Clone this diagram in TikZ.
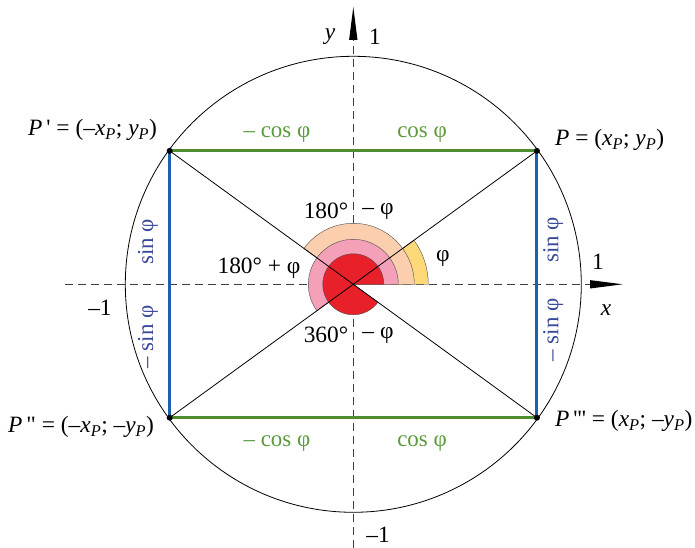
\documentclass[tikz,border=0pt]{standalone}
\usepackage{fontspec}
\usetikzlibrary{calc}
\setmainfont{Liberation Serif}
\definecolor{cyel}{HTML}{FDD97A}
\definecolor{cpeach}{HTML}{FBCFAE}
\definecolor{cpink}{HTML}{F4A0B8}
\definecolor{cred}{HTML}{E8202A}
\definecolor{cgreen}{HTML}{4E8E2E}
\definecolor{cgreentxt}{HTML}{5A9A3A}
\definecolor{cblue}{HTML}{1A60B0}
\definecolor{cbluetxt}{HTML}{3A489A}
\newcommand{\qs}{\textquotesingle}
\newcommand{\ph}{φ}
\begin{document}
\begin{tikzpicture}[x=1bp,y=1bp,
  lbl/.style={inner sep=0pt,font=\fontsize{23.5}{27}\selectfont},
  gtxt/.style={inner sep=0pt,text=cgreentxt,font=\fontsize{23}{26}\selectfont},
  btxt/.style={inner sep=0pt,text=cbluetxt,font=\fontsize{23}{26}\selectfont,rotate=90},
  axis/.style={dashed,dash pattern=on 8bp off 5bp,line width=0.7bp,black!75},
  sector/.style={draw=black!70,line width=0.4bp},
  tri/.style={fill=black,draw=none},
  dot/.style={circle,fill=black,inner sep=0pt,minimum size=6bp}]
\useasboundingbox (-353.3,-263.7) rectangle (341.7,284.3);
\coordinate (O) at (0,0);
% axes
\coordinate (xl) at (-288,0);
\coordinate (xb) at (236.7,0);
\coordinate (xt) at (269.4,0);
\coordinate (yb) at (0,-263.7);
\coordinate (yb2) at (0,244.3);
\coordinate (yt) at (0,277.3);
\draw[axis] (xl) -- (xb);
\draw[axis] (yb) -- (yb2);
\fill[tri] (xt) -- ($(xb)+(0,4.2)$) -- ($(xb)+(0,-4.2)$) -- cycle;
\fill[tri] (yt) -- ($(yb2)+(4.2,0)$) -- ($(yb2)+(-4.2,0)$) -- cycle;
% circle
\draw[line width=0.8bp] (O) circle (228);
% sectors
\filldraw[sector,fill=cyel] (O) -- (0:75) arc (0:36:75) -- cycle;
\filldraw[sector,fill=cpeach] (O) -- (0:61) arc (0:144:61) -- cycle;
\filldraw[sector,fill=cpink] (O) -- (0:45) arc (0:216:45) -- cycle;
\filldraw[sector,fill=cred] (O) -- (0:30.5) arc (0:324:30.5) -- cycle;
% points
\coordinate (P) at (36:227);
\coordinate (P1) at (144:227);
\coordinate (P2) at (216:227);
\coordinate (P3) at (324:227);
\draw[line width=0.8bp] (P) -- (P2);
\draw[line width=0.8bp] (P1) -- (P3);
\draw[cgreen,line width=3bp] (P1) -- (P);
\draw[cgreen,line width=3bp] (P2) -- (P3);
\draw[cblue,line width=3bp] (P1) -- (P2);
\draw[cblue,line width=3bp] (P) -- (P3);
\node[dot] (dP) at (P) {};
\node[dot] (dP1) at (P1) {};
\node[dot] (dP2) at (P2) {};
\node[dot] (dP3) at (P3) {};
% point labels
\node[lbl,anchor=base west] (lP1) at (-325.3,148.3) {\textit{P}\,\qs\ = (–\textit{x}\textsubscript{\textit{P}}; \textit{y}\textsubscript{\textit{P}})};
\node[lbl,anchor=base west] (lP) at (201.7,138.3) {\textit{P} = (\textit{x}\textsubscript{\textit{P}}; \textit{y}\textsubscript{\textit{P}})};
\node[lbl,anchor=base west] (lP2) at (-345.3,-148.7) {\textit{P}\,\textquotedbl\ = (–\textit{x}\textsubscript{\textit{P}}; –\textit{y}\textsubscript{\textit{P}})};
\node[lbl,anchor=base west] (lP3) at (201.7,-142.7) {\textit{P}\,\qs\qs\qs\ = (\textit{x}\textsubscript{\textit{P}}; –\textit{y}\textsubscript{\textit{P}})};
% green labels
\node[gtxt,anchor=base] (g1) at (-76.3,146.3) {– cos \ph};
\node[gtxt,anchor=base] (g2) at (68.7,146.3) {cos \ph};
\node[gtxt,anchor=base] (g3) at (-76.3,-162.4) {– cos \ph};
\node[gtxt,anchor=base] (g4) at (68.7,-162.4) {cos \ph};
% blue labels
\node[btxt] (b1) at (-205.3,42.3) {sin \ph};
\node[btxt] (b2) at (-205.3,-52.7) {– sin \ph};
\node[btxt] (b3) at (200,44.3) {sin \ph};
\node[btxt] (b4) at (200,-45.7) {– sin \ph};
% axis labels
\node[lbl] (ly) at (-23.3,247.3) {\textit{y}};
\node[lbl] (l1y) at (21.7,247.3) {1};
\node[lbl] (l1x) at (244.7,22.3) {1};
\node[lbl] (lx) at (252.7,-25.7) {\textit{x}};
\node[lbl] (lm1x) at (-253.3,-23.7) {–1};
\node[lbl] (lm1y) at (24.7,-250.7) {–1};
% angle labels
\node[lbl] (a1) at (-27.3,73.3) {180°};
\node[lbl] (a2) at (24.7,73.3) {– \ph};
\node[lbl] (a3) at (-94.3,16.3) {180° + \ph};
\node[lbl] (a4) at (89.7,26.3) {\ph};
\node[lbl] (a5) at (-27.3,-50.7) {360°};
\node[lbl] (a6) at (24.7,-50.7) {– \ph};
\end{tikzpicture}
\end{document}
